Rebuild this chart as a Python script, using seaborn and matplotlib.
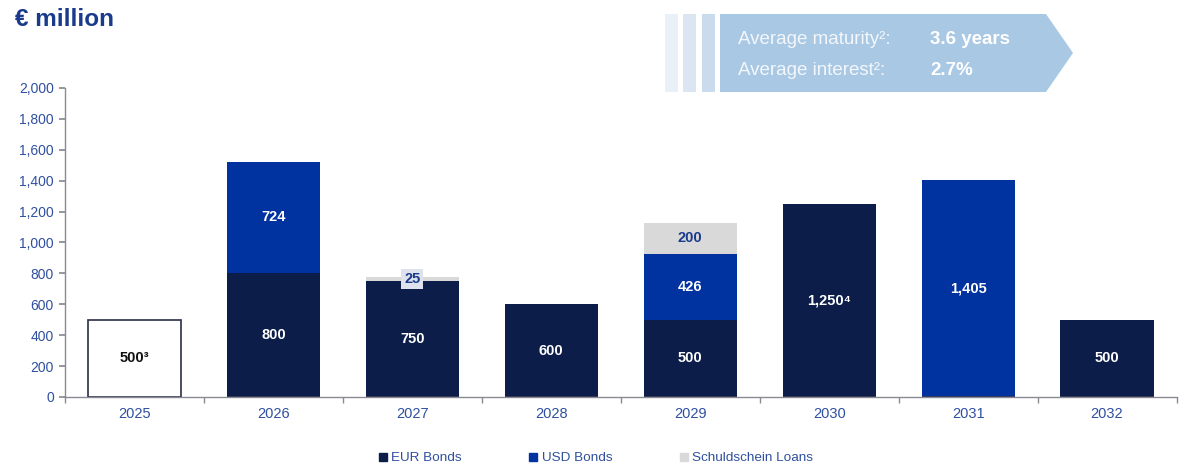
import numpy as np
import pandas as pd
import matplotlib
matplotlib.use("Agg")
import matplotlib.pyplot as plt
import seaborn as sns
from matplotlib.patches import Polygon, Rectangle
from matplotlib.lines import Line2D

years = ["2025", "2026", "2027", "2028", "2029", "2030", "2031", "2032"]
repaid = [500, 0, 0, 0, 0, 0, 0, 0]
eur_bonds = [0, 800, 750, 600, 500, 1250, 0, 500]
usd_bonds = [0, 724, 0, 0, 426, 0, 1405, 0]
schuldschein = [0, 0, 25, 0, 200, 0, 0, 0]
eur_labels = ["", "800", "750", "600", "500", "1,250⁴", "", "500"]
usd_labels = ["", "724", "", "", "426", "", "1,405", ""]
ssd_labels = ["", "", "25", "", "200", "", "", ""]
repaid_labels = ["500³", "", "", "", "", "", "", ""]
yticks = list(range(0, 2001, 200))

C_EUR = "#0b1d48"
C_USD = "#0032a0"
C_SSD = "#d9d9d9"
C_TXT = "#2f4f9f"
C_TITLE = "#1a3a8c"

sns.set_theme(style="white")
plt.rcParams["font.family"] = ["Liberation Sans", "DejaVu Sans"]

df = pd.DataFrame({"year": years, "repaid": repaid, "eur": eur_bonds,
                   "usd": usd_bonds, "ssd": schuldschein})
df["eur_usd"] = df["eur"] + df["usd"]
df["total"] = df["eur_usd"] + df["ssd"]

fig = plt.figure(figsize=(11.92, 4.72), dpi=100)
ax = fig.add_axes([0.0545, 0.159, 0.9325, 0.6546])

W = 0.67
common = dict(x="year", width=W, ax=ax, saturation=1, errorbar=None)
sns.barplot(data=df, y="total", color=C_SSD, linewidth=0, **common)
sns.barplot(data=df, y="eur_usd", color=C_USD, linewidth=0, **common)
sns.barplot(data=df, y="eur", color=C_EUR, linewidth=0, **common)
sns.barplot(data=df, y="repaid", color="white", edgecolor="#2a2f45", linewidth=1.2, **common)

for i in range(len(years)):
    if repaid_labels[i]:
        ax.text(i, repaid[i] / 2, repaid_labels[i], ha="center", va="center",
                color="#111111", fontsize=10.5, fontweight="bold")
    if eur_labels[i]:
        ax.text(i, eur_bonds[i] / 2, eur_labels[i], ha="center", va="center",
                color="white", fontsize=10.5, fontweight="bold")
    if usd_labels[i]:
        ax.text(i, eur_bonds[i] + usd_bonds[i] / 2, usd_labels[i], ha="center", va="center",
                color="white", fontsize=10.5, fontweight="bold")
    if ssd_labels[i]:
        base = eur_bonds[i] + usd_bonds[i]
        kw = {}
        if schuldschein[i] < 100:
            kw["bbox"] = dict(boxstyle="square,pad=0.2", facecolor="#dde2ec", edgecolor="none")
        ax.text(i, base + schuldschein[i] / 2, ssd_labels[i], ha="center", va="center",
                color=C_TITLE, fontsize=10.5, fontweight="bold", **kw)

ax.set_ylim(0, 2000)
ax.set_xlim(-0.5, len(years) - 0.5)
ax.set_yticks(yticks)
ax.set_yticklabels([f"{v:,}" for v in yticks], color=C_TXT, fontsize=10)
ax.set_xticks(range(len(years)))
ax.set_xticklabels(years, color=C_TXT, fontsize=10.5)
ax.set_xticks(np.arange(-0.5, len(years), 1), minor=True)
ax.tick_params(axis="x", which="major", length=0, pad=7)
ax.tick_params(axis="x", which="minor", length=4, color="#8a8a95", direction="out", bottom=True)
ax.tick_params(axis="y", length=4, color="#8a8a95", direction="out", left=True, pad=4)
ax.set_xlabel("")
ax.set_ylabel("")
for s in ["top", "right"]:
    ax.spines[s].set_visible(False)
for s in ["left", "bottom"]:
    ax.spines[s].set_color("#8a8a95")
    ax.spines[s].set_linewidth(1.0)

# Title
fig.text(15 / 1192, 1 - 19 / 472, "€ million", ha="left", va="center",
         fontsize=17.5, fontweight="bold", color=C_TITLE)

def fp(x, y):
    return (x / 1192, 1 - y / 472)

for x0, col in [(665, "#e9f0f8"), (683, "#dbe6f2"), (702, "#c9dbed")]:
    fig.patches.append(Rectangle(fp(x0, 92), 13 / 1192, 78 / 472, transform=fig.transFigure,
                                 facecolor=col, edgecolor="none"))
poly = Polygon([fp(720, 14), fp(1046, 14), fp(1073, 53), fp(1046, 92), fp(720, 92)],
               closed=True, transform=fig.transFigure, facecolor="#a9c8e4", edgecolor="none")
fig.patches.append(poly)
fig.text(*fp(738, 39), "Average maturity²:", ha="left", va="center", fontsize=13.5, color="#f3f7fb")
fig.text(*fp(738, 71), "Average interest²:", ha="left", va="center", fontsize=13.5, color="#f3f7fb")
fig.text(*fp(930, 39), "3.6 years", ha="left", va="center", fontsize=13.5, color="white", fontweight="bold")
fig.text(*fp(930, 71), "2.7%", ha="left", va="center", fontsize=13.5, color="white", fontweight="bold")

# Legend
handles = [Line2D([], [], marker="s", linestyle="none", markersize=5.5, color=c)
           for c in [C_EUR, C_USD, C_SSD]]
leg = fig.legend(handles, ["EUR Bonds", "USD Bonds", "Schuldschein Loans"], loc="center",
                 bbox_to_anchor=(596 / 1192, 1 - 458 / 472), ncol=3, frameon=False,
                 fontsize=9.7, handlelength=0.6, handletextpad=0.3, columnspacing=5.0)
for t in leg.get_texts():
    t.set_color(C_TXT)

fig.savefig("out.png", dpi=100)
